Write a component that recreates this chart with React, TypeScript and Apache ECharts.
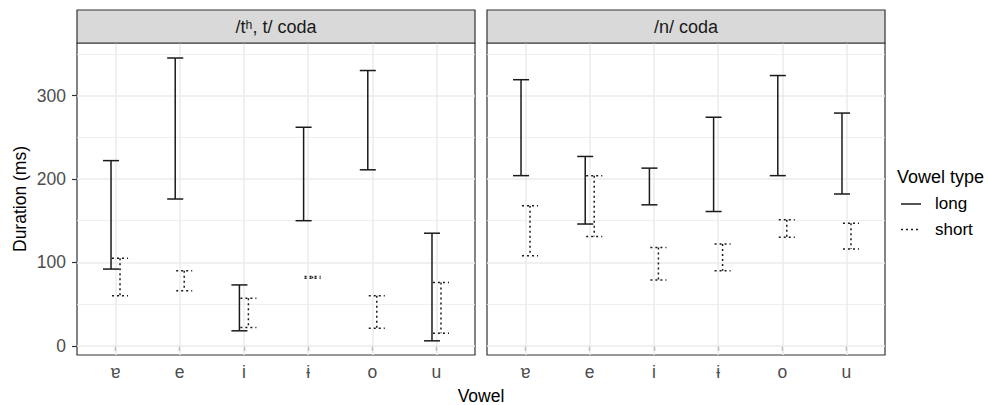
import React, { useEffect, useRef } from "react";
import * as echarts from "echarts";

const vowels = ["ɐ", "e", "i", "ɨ", "o", "u"];
const panelTitles = ["/tʰ, t/ coda", "/n/ coda"];
const yTicks = [0, 100, 200, 300];
const yMinorGrid = [50, 150, 250, 350];

const tLongLow = [92, 176, 18, 150, 211, 6];
const tLongHigh = [222, 345, 73, 262, 330, 135];
const tShortLow = [60, 66, 22, 81, 21, 15];
const tShortHigh = [105, 90, 57, 83, 60, 76];

const nLongLow = [204, 146, 169, 161, 204, 182];
const nLongHigh = [319, 227, 213, 274, 324, 279];
const nShortLow = [108, 131, 79, 90, 130, 116];
const nShortHigh = [168, 204, 118, 122, 151, 147];

const FONT = "'Liberation Sans', Arial, Helvetica, sans-serif";
const BAR_COLOR = "#1a1a1a";

const makeRender = (offset: number, dashed: boolean) => (params: any, api: any) => {
  const x = api.value(0);
  const lo = api.value(1);
  const hi = api.value(2);
  const pLo = api.coord([x + offset, lo]);
  const pHi = api.coord([x + offset, hi]);
  const half = api.size([0.125, 0])[0];
  const style: any = {
    stroke: BAR_COLOR,
    lineWidth: 1.5,
    fill: null,
    lineDash: dashed ? [2, 3] : null,
  };
  return {
    type: "group",
    children: [
      { type: "line", shape: { x1: pLo[0], y1: pHi[1], x2: pLo[0], y2: pLo[1] }, style },
      { type: "line", shape: { x1: pLo[0] - half, y1: pHi[1], x2: pLo[0] + half, y2: pHi[1] }, style },
      { type: "line", shape: { x1: pLo[0] - half, y1: pLo[1], x2: pLo[0] + half, y2: pLo[1] }, style },
    ],
  };
};

const toData = (lo: number[], hi: number[]) => lo.map((v, i) => [i + 1, v, hi[i]]);

export default function App() {
  const ref = useRef<HTMLDivElement>(null);
  useEffect(() => {
    if (!ref.current) return;
    const chart = echarts.init(ref.current, undefined, { renderer: "svg" });
    const panelLeft = [77, 487];
    const panelWidth = 398;
    const gridTop = 43;
    const gridHeight = 312;
    const yMin = -11;
    const yMax = 363;

    const grids = panelLeft.map((l) => ({
      left: l,
      top: gridTop,
      width: panelWidth,
      height: gridHeight,
      show: true,
      borderColor: "#333333",
      borderWidth: 1.2,
      backgroundColor: "#ffffff",
    }));

    const xAxes = [0, 1].map((i) => ({
      type: "value",
      gridIndex: i,
      min: 0.4,
      max: 6.6,
      axisLine: { show: false },
      splitLine: { show: false },
      axisTick: {
        show: true,
        customValues: [1, 2, 3, 4, 5, 6],
        length: 5,
        lineStyle: { color: "#333333", width: 1.2 },
      },
      axisLabel: {
        customValues: [1, 2, 3, 4, 5, 6],
        formatter: (v: number) => vowels[Math.round(v) - 1] ?? "",
        color: "#4d4d4d",
        fontSize: 17.5,
        fontFamily: FONT,
        margin: 8,
      },
    }));

    const yAxes = [0, 1].map((i) => ({
      type: "value",
      gridIndex: i,
      min: yMin,
      max: yMax,
      splitNumber: 4,
      axisLine: { show: false },
      splitLine: { show: false },
      axisTick: {
        show: i === 0,
        customValues: yTicks,
        length: 5,
        lineStyle: { color: "#333333", width: 1.2 },
      },
      axisLabel: {
        show: i === 0,
        customValues: yTicks,
        color: "#4d4d4d",
        fontSize: 17.5,
        fontFamily: FONT,
        margin: 11,
      },
    }));

    const gridLines = (idx: number) => ({
      type: "custom",
      xAxisIndex: idx,
      yAxisIndex: idx,
      data: [],
      renderItem: () => ({ type: "group", children: [] }),
      silent: true,
      markLine: {
        silent: true,
        symbol: ["none", "none"],
        label: { show: false },
        z: 1,
        animation: false,
        data: [
          ...yMinorGrid.map((v) => ({ yAxis: v, lineStyle: { color: "#ebebeb", width: 0.8, type: "solid" } })),
          ...yTicks.map((v) => ({ yAxis: v, lineStyle: { color: "#ebebeb", width: 1.5, type: "solid" } })),
          ...vowels.map((_, k) => ({ xAxis: k + 1, lineStyle: { color: "#ebebeb", width: 1.5, type: "solid" } })),
        ],
      },
    });

    const panels = [
      { long: toData(tLongLow, tLongHigh), short: toData(tShortLow, tShortHigh) },
      { long: toData(nLongLow, nLongHigh), short: toData(nShortLow, nShortHigh) },
    ];

    const series: any[] = [];
    panels.forEach((p, idx) => {
      series.push(gridLines(idx));
      series.push({
        type: "custom",
        name: "long",
        xAxisIndex: idx,
        yAxisIndex: idx,
        z: 3,
        clip: false,
        encode: { x: 0, y: [1, 2] },
        renderItem: makeRender(-0.07, false),
        data: p.long,
      });
      series.push({
        type: "custom",
        name: "short",
        xAxisIndex: idx,
        yAxisIndex: idx,
        z: 3,
        clip: false,
        encode: { x: 0, y: [1, 2] },
        renderItem: makeRender(0.07, true),
        data: p.short,
      });
    });

    const graphic: any[] = [];
    panelLeft.forEach((l, i) => {
      graphic.push({
        type: "rect",
        shape: { x: l, y: 10, width: panelWidth, height: 33 },
        style: { fill: "#d9d9d9", stroke: "#333333", lineWidth: 1.2 },
        z: 10,
      });
      graphic.push({
        type: "text",
        x: l + panelWidth / 2,
        y: 26.5,
        style: {
          text: panelTitles[i],
          fill: "#1a1a1a",
          fontSize: 18,
          fontFamily: FONT,
          align: "center",
          verticalAlign: "middle",
        },
        z: 11,
      });
    });
    graphic.push({
      type: "text",
      x: 20,
      y: gridTop + gridHeight / 2,
      rotation: Math.PI / 2,
      style: {
        text: "Duration (ms)",
        fill: "#000000",
        fontSize: 17.5,
        fontFamily: FONT,
        align: "center",
        verticalAlign: "middle",
      },
    });
    graphic.push({
      type: "text",
      x: (panelLeft[0] + panelLeft[1] + panelWidth) / 2,
      y: 396,
      style: {
        text: "Vowel",
        fill: "#000000",
        fontSize: 17.5,
        lineHeight: 16,
        fontFamily: FONT,
        align: "center",
        verticalAlign: "middle",
      },
    });
    graphic.push({
      type: "text",
      x: 897,
      y: 177,
      style: { text: "Vowel type", fill: "#000000", fontSize: 18, fontFamily: FONT, verticalAlign: "middle" },
    });
    graphic.push({
      type: "line",
      shape: { x1: 901, y1: 204, x2: 921, y2: 204 },
      style: { stroke: BAR_COLOR, lineWidth: 1.5 },
    });
    graphic.push({
      type: "line",
      shape: { x1: 901, y1: 229.5, x2: 921, y2: 229.5 },
      style: { stroke: BAR_COLOR, lineWidth: 1.5, lineDash: [2, 3] },
    });
    graphic.push({
      type: "text",
      x: 935,
      y: 203,
      style: { text: "long", fill: "#000000", fontSize: 17, fontFamily: FONT, verticalAlign: "middle" },
    });
    graphic.push({
      type: "text",
      x: 935,
      y: 229,
      style: { text: "short", fill: "#000000", fontSize: 17, fontFamily: FONT, verticalAlign: "middle" },
    });

    chart.setOption({
      animation: false,
      backgroundColor: "#ffffff",
      textStyle: { fontFamily: FONT },
      grid: grids,
      xAxis: xAxes,
      yAxis: yAxes,
      series,
      graphic,
    });
    return () => chart.dispose();
  }, []);
  return (
    <div
      ref={ref}
      style={{ position: "fixed", left: 0, top: 0, width: 988, height: 405 }}
    />
  );
}
